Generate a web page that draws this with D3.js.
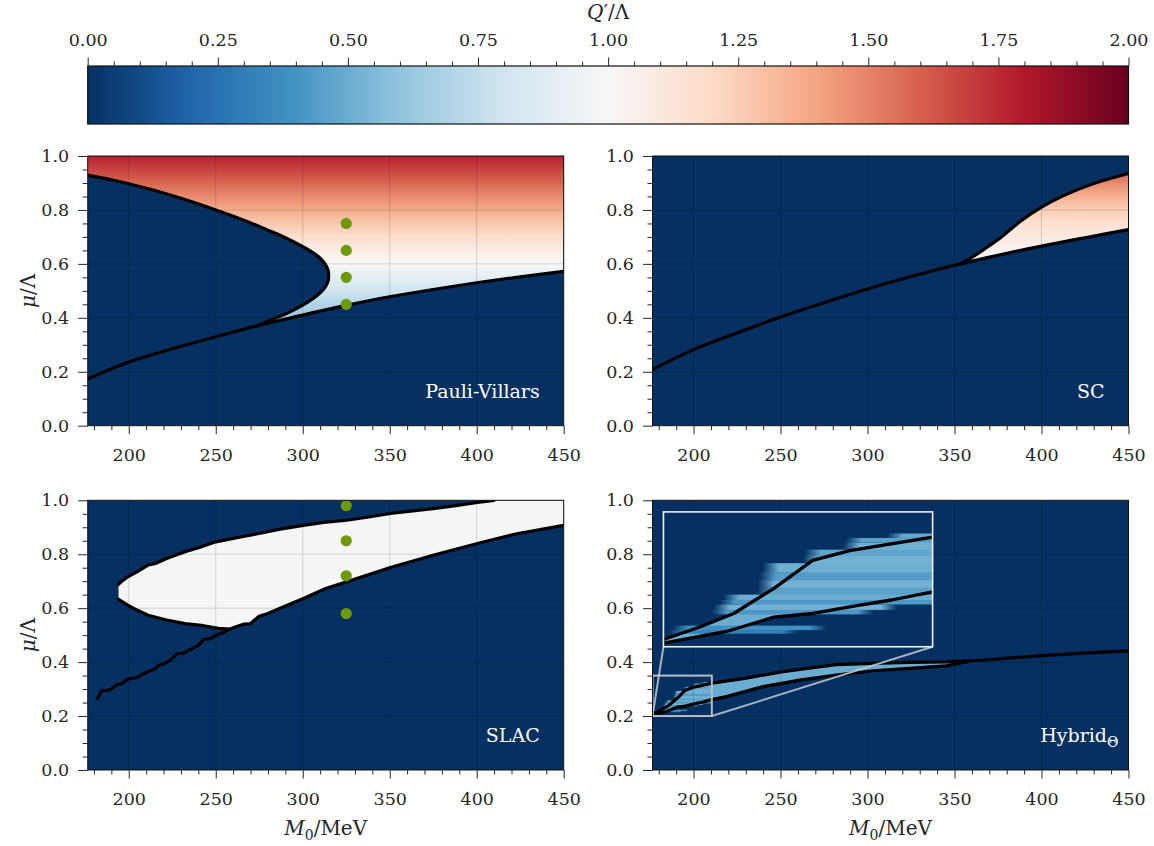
<!DOCTYPE html>
<html>
<head>
<meta charset="utf-8">
<script src="https://cdn.jsdelivr.net/npm/d3@7/dist/d3.min.js"></script>
<style>
  html, body { margin: 0; padding: 0; background: #ffffff; }
  svg text { font-family: "DejaVu Serif", "Liberation Serif", serif; }
</style>
</head>
<body>
<svg id="fig" width="1154" height="846"></svg>
<script>
// ---------- shared axes ----------
const massDomain = [176.4, 450];
const muDomain = [0, 1];
const qDomain = [0, 2];
const massTicks = [200, 250, 300, 350, 400, 450];
const muTicks = [0, 0.2, 0.4, 0.6, 0.8, 1.0];
const qTicks = [0, 0.25, 0.5, 0.75, 1.0, 1.25, 1.5, 1.75, 2.0];

// ---------- Pauli-Villars ----------
const pvUpper = [[176.4,0.929],[190,0.912],[200,0.897],[215,0.872],[230,0.843],[250,0.800],[265,0.765],[280,0.725],[290,0.697],[300,0.664],[306,0.641],[310,0.621],[313,0.598],[314.6,0.575],[314.9,0.556]];
const pvLowerBranch = [[314.9,0.556],[314.6,0.537],[313,0.515],[310,0.493],[306,0.472],[300,0.447],[293,0.423],[285,0.400],[280,0.387],[275,0.373]];
const pvLine = [[176.4,0.173],[200,0.236],[225,0.285],[250,0.330],[275,0.372],[300,0.410],[325,0.446],[350,0.478],[375,0.505],[400,0.530],[425,0.552],[450,0.572]];
const pvMu = [0.35,0.40,0.45,0.50,0.55,0.60,0.65,0.70,0.75,0.80,0.85,0.90,0.95,1.00];
const pvQ  = [0.55,0.62,0.70,0.80,0.90,1.00,1.08,1.17,1.27,1.37,1.48,1.58,1.68,1.78];
const pvDots = [[325,0.75],[325,0.65],[325,0.55],[325,0.45]];

// ---------- SC ----------
const scLine = [[176.4,0.208],[200,0.282],[225,0.344],[250,0.403],[275,0.456],[300,0.507],[325,0.553],[350,0.595],[354,0.601],[375,0.632],[400,0.666],[425,0.697],[450,0.727]];
const scUpper = [[354,0.601],[360,0.624],[366.5,0.652],[377,0.700],[387.5,0.756],[400,0.810],[412.7,0.853],[429.6,0.897],[450,0.935]];
const scMu = [0.60,0.65,0.70,0.75,0.80,0.85,0.90,0.95];
const scQ  = [1.00,1.04,1.09,1.16,1.25,1.36,1.48,1.62];

// ---------- SLAC ----------
const slacUpper = [[194.1,0.688],[196,0.700],[199.4,0.716],[204.7,0.735],[208,0.748],[211.1,0.760],[215,0.765],[221.7,0.784],[232.4,0.809],[241,0.826],[250,0.846],[264.3,0.864],[274.9,0.877],[287,0.893],[300.4,0.907],[312,0.918],[325.3,0.926],[337,0.937],[350.4,0.951],[362,0.960],[374.9,0.969],[388,0.980],[400.4,0.992],[406,1.0],[450,1.0]];
const slacLowerEdge = [[194.1,0.633],[199.4,0.611],[204.7,0.593],[211.1,0.574],[221.7,0.556],[232.4,0.543],[243,0.535],[251.5,0.525],[257.9,0.522]];
const slacRise = [[182,0.265],[184.5,0.294],[187,0.294],[189.8,0.299],[193,0.315],[196.2,0.321],[199.4,0.337],[204.7,0.343],[208,0.355],[211.1,0.364],[215,0.375],[217.5,0.389],[220,0.392],[223.8,0.407],[228.1,0.432],[231,0.432],[234.5,0.444],[240,0.462],[243,0.484],[247,0.487],[251.5,0.504],[254,0.508],[257.9,0.522],[262,0.532],[266.4,0.541],[270,0.543],[274.9,0.570],[280,0.580],[287.7,0.602],[300.4,0.636],[313.2,0.673],[325.3,0.698],[350.4,0.751],[374.9,0.796],[400.4,0.840],[423.8,0.877],[450,0.907]];
const slacQ = 0.985;
const slacDots = [[325,0.98],[325,0.85],[325,0.72],[325,0.58]];

// ---------- Hybrid ----------
const hybUpper = [[176.4,0.208],[181,0.222],[185.3,0.237],[190.4,0.265],[195.3,0.296],[200,0.307],[204.3,0.313],[210.5,0.322],[229.4,0.340],[250.5,0.364],[265.2,0.377],[282,0.391],[303,0.395],[324,0.399],[345,0.401],[358,0.405],[366,0.407],[398,0.423],[429,0.435],[450,0.442]];
const hybLower = [[176.4,0.204],[184.4,0.217],[190.4,0.233],[195.3,0.237],[201.1,0.246],[205.3,0.252],[210.5,0.261],[218.9,0.272],[240,0.309],[261,0.333],[282,0.352],[303,0.368],[324,0.377],[345,0.386],[358,0.403]];
const hybQ = 0.5;
// horizontal streaks of the band: [mu low, mu high, M start, M end, Q'/Lambda]
const hybStreaks = [
  [0.2145,0.2185,177.0,193.5,0.32],
  [0.2185,0.2235,177.5,197.0,0.38],
  [0.2360,0.2410,182.5,203.0,0.42],
  [0.2410,0.2470,182.8,206.0,0.52],
  [0.2470,0.2520,183.5,210.5,0.42],
  [0.2520,0.2580,184.0,210.5,0.50],
  [0.2580,0.2660,188.3,210.5,0.46],
  [0.2660,0.2740,188.4,210.5,0.52],
  [0.2740,0.2830,188.6,210.5,0.44],
  [0.2830,0.2930,189.0,210.5,0.51],
  [0.2930,0.3010,194.1,210.5,0.52],
  [0.3010,0.3080,194.3,210.5,0.47],
  [0.3080,0.3160,199.2,210.5,0.51],
  [0.3160,0.3210,199.5,210.5,0.45],
  [0.3210,0.3260,204.7,210.5,0.48]
];
// zoomed window and where it is placed (main-axis units)
const zoomWindow = {m: [176.4, 210.5], mu: [0.2, 0.35]};
const zoomPlace  = {m: [182.7, 337.4], mu: [0.457, 0.957]};

// ---------- figure ----------
const svg = d3.select('#fig');
const defs = svg.append('defs');
const ink = '#262626';
const fs = 17.5;
// RdBu reversed, linear between the eleven ColorBrewer anchors
const rdbu = d3.schemeRdBu[11].slice().reverse();
const color = d3.scaleLinear()
  .domain(rdbu.map((c, i) => qDomain[0] + i * (qDomain[1] - qDomain[0]) / (rdbu.length - 1)))
  .range(rdbu).interpolate(d3.interpolateRgb).clamp(true);
const panelW = 476, panelH = 269.7;
const layout = {
  pv:   {left: 87.7,  top: 156,   xlab: false, ylab: true},
  sc:   {left: 652.5, top: 156,   xlab: false, ylab: false},
  slac: {left: 87.7,  top: 500.3, xlab: true,  ylab: true},
  hyb:  {left: 652.5, top: 500.3, xlab: true,  ylab: false}
};
const x = d3.scaleLinear().domain(massDomain).range([0, panelW]);
const y = d3.scaleLinear().domain(muDomain).range([panelH, 0]);

function seg(pts, xs, ys, curve) {
  return d3.line().x(d => xs(d[0])).y(d => ys(d[1])).curve(curve || d3.curveLinear)(pts);
}
function joinSegs(segs) {
  return segs.map((s, i) => i ? s.replace(/^M/, 'L') : s).join('') + 'Z';
}
function vGradient(id, ys, mus, qs) {
  const g = defs.append('linearGradient').attr('id', id)
    .attr('gradientUnits', 'userSpaceOnUse')
    .attr('x1', 0).attr('x2', 0)
    .attr('y1', ys(mus[0])).attr('y2', ys(mus[mus.length - 1]));
  const span = mus[mus.length - 1] - mus[0];
  mus.forEach((m, i) => g.append('stop')
    .attr('offset', (m - mus[0]) / span)
    .attr('stop-color', color(qs[i])));
  return `url(#${id})`;
}
function curveStroke(layer, pts, xs, ys, curve, w) {
  layer.append('path').attr('d', seg(pts, xs, ys, curve))
    .attr('fill', 'none').attr('stroke', '#000').attr('stroke-width', w || 3.2)
    .attr('stroke-linejoin', 'round').attr('stroke-linecap', 'round');
}
function dots(layer, pts) {
  layer.selectAll(null).data(pts).join('circle')
    .attr('cx', d => x(d[0])).attr('cy', d => y(d[1])).attr('r', 5.6)
    .attr('fill', '#6e9a0a');
}
function styleAxis(a) {
  a.select('.domain').remove();
  a.attr('font-size', null).attr('font-family', null);
  a.selectAll('line').attr('stroke', ink).attr('stroke-width', 1);
  a.selectAll('text').attr('fill', ink).style('font-size', fs + 'px');
}
function minorTicks(domain, step, majors) {
  const out = [];
  for (let v = Math.ceil(domain[0] / step) * step; v <= domain[1] + 1e-9; v += step) {
    const r = Math.round(v / step) * step;
    if (!majors.some(m => Math.abs(m - r) < 1e-6)) out.push(r);
  }
  return out;
}

function panel(key, label, content) {
  const L = layout[key];
  const g = svg.append('g').attr('transform', `translate(${L.left},${L.top})`);
  defs.append('clipPath').attr('id', 'clip-' + key)
    .append('rect').attr('width', panelW).attr('height', panelH);
  const plot = g.append('g').attr('clip-path', `url(#clip-${key})`);
  plot.append('rect').attr('width', panelW).attr('height', panelH).attr('fill', color(0));
  const heat = plot.append('g');
  const grid = plot.append('g').attr('stroke', '#000').attr('stroke-opacity', 0.14).attr('stroke-width', 1);
  grid.selectAll(null).data(massTicks).join('line')
    .attr('x1', d => x(d)).attr('x2', d => x(d)).attr('y1', 0).attr('y2', panelH);
  grid.selectAll(null).data(muTicks).join('line')
    .attr('y1', d => y(d)).attr('y2', d => y(d)).attr('x1', 0).attr('x2', panelW);
  const marks = plot.append('g');
  content(heat, marks);

  // panel name
  label(g);

  g.append('rect').attr('width', panelW).attr('height', panelH)
    .attr('fill', 'none').attr('stroke', '#111').attr('stroke-width', 1);

  // axes
  const bx = g.append('g').attr('transform', `translate(0,${panelH})`)
    .call(d3.axisBottom(x).tickValues(massTicks).tickSize(8.5).tickPadding(14.2).tickFormat(d3.format('d')));
  styleAxis(bx);
  const bxm = g.append('g').attr('transform', `translate(0,${panelH})`)
    .call(d3.axisBottom(x).tickValues(minorTicks(massDomain, 10, massTicks)).tickSize(4.5).tickFormat(''));
  styleAxis(bxm);
  const ly = g.append('g')
    .call(d3.axisLeft(y).tickValues(muTicks).tickSize(9.5).tickPadding(9).tickFormat(d3.format('.1f')));
  styleAxis(ly);
  const lym = g.append('g')
    .call(d3.axisLeft(y).tickValues(minorTicks(muDomain, 0.05, muTicks)).tickSize(5).tickFormat(''));
  styleAxis(lym);

  if (L.ylab) {
    const t = g.append('text')
      .attr('transform', `translate(${29 - L.left},${panelH / 2}) rotate(-90)`)
      .attr('text-anchor', 'middle').attr('dominant-baseline', 'middle')
      .attr('fill', ink).style('font-size', '20px');
    t.append('tspan').attr('font-style', 'italic').text('μ');
    t.append('tspan').text('/Λ');
  }
  if (L.xlab) {
    const t = g.append('text')
      .attr('x', panelW / 2).attr('y', panelH + 65)
      .attr('text-anchor', 'middle').attr('fill', ink).style('font-size', '20px');
    t.append('tspan').attr('font-style', 'italic').text('M');
    t.append('tspan').attr('dy', 5).style('font-size', '14px').text('0');
    t.append('tspan').attr('dy', -5).text('/MeV');
  }
  return g;
}

function cornerLabel(txt) {
  return g => g.append('text').attr('x', panelW - 24).attr('y', panelH - 28)
    .attr('text-anchor', 'end').attr('fill', '#ffffff').style('font-size', '19px').text(txt);
}

// Pauli-Villars: coloured where Q' > 0
panel('pv', cornerLabel('Pauli-Villars'), (heat, marks) => {
  const fill = vGradient('grad-pv', y, pvMu, pvQ);
  const lineRight = pvLine.filter(d => d[0] >= pvLowerBranch[pvLowerBranch.length - 1][0]);
  const d = joinSegs([
    seg([[massDomain[0], 1], [massDomain[1], 1], lineRight[lineRight.length - 1]], x, y),
    seg(lineRight.slice().reverse(), x, y, d3.curveCatmullRom),
    seg(pvLowerBranch.slice().reverse(), x, y, d3.curveCatmullRom),
    seg(pvUpper.slice().reverse(), x, y, d3.curveCatmullRom)
  ]);
  heat.append('path').attr('d', d).attr('fill', fill);
  curveStroke(marks, pvUpper.concat(pvLowerBranch.slice(1)), x, y, d3.curveCatmullRom);
  curveStroke(marks, pvLine, x, y, d3.curveCatmullRom);
  dots(marks, pvDots);
});

// SC
panel('sc', cornerLabel('SC'), (heat, marks) => {
  const fill = vGradient('grad-sc', y, scMu, scQ);
  const lineRight = scLine.filter(d => d[0] >= scUpper[0][0]);
  const d = joinSegs([
    seg(scUpper, x, y, d3.curveCatmullRom),
    seg(lineRight.slice().reverse(), x, y, d3.curveCatmullRom)
  ]);
  heat.append('path').attr('d', d).attr('fill', fill);
  curveStroke(marks, scLine, x, y, d3.curveCatmullRom);
  curveStroke(marks, scUpper, x, y, d3.curveCatmullRom);
});

// SLAC
panel('slac', cornerLabel('SLAC'), (heat, marks) => {
  const riseRight = slacRise.filter(d => d[0] >= slacLowerEdge[slacLowerEdge.length - 1][0]);
  const d = joinSegs([
    seg(slacUpper, x, y),
    seg(riseRight.slice().reverse(), x, y),
    seg(slacLowerEdge.slice().reverse(), x, y)
  ]);
  heat.append('path').attr('d', d).attr('fill', color(slacQ));
  curveStroke(marks, slacUpper.filter(p => p[1] < 1).concat([[410, 1.0]]), x, y);
  curveStroke(marks, slacLowerEdge, x, y);
  curveStroke(marks, slacRise, x, y);
  dots(marks, slacDots);
});

// Hybrid band; streaks fade in over `fadePx` pixels (and fade out where they stop early)
function drawHybrid(layer, xs, ys, w, fadePx, idPrefix) {
  const upTo = hybLower[hybLower.length - 1][0];
  const band = joinSegs([
    seg(hybUpper.filter(d => d[0] <= upTo), xs, ys),
    seg(hybLower.slice().reverse(), xs, ys)
  ]);
  layer.append('path').attr('d', band).attr('fill', color(hybQ));
  hybStreaks.forEach((d, i) => {
    const id = `${idPrefix}-streak-${i}`;
    const c = color(d[4]);
    const x0 = xs(d[2]), x1 = xs(d[3]);
    const len = Math.max(x1 - x0, 1);
    const fadeIn = Math.min(fadePx / len, 0.45);
    const gr = defs.append('linearGradient').attr('id', id)
      .attr('gradientUnits', 'userSpaceOnUse')
      .attr('x1', x0).attr('x2', x1).attr('y1', 0).attr('y2', 0);
    gr.append('stop').attr('offset', 0).attr('stop-color', c).attr('stop-opacity', 0);
    gr.append('stop').attr('offset', fadeIn).attr('stop-color', c).attr('stop-opacity', 1);
    if (d[3] < zoomWindow.m[1]) {
      gr.append('stop').attr('offset', 1 - fadeIn).attr('stop-color', c).attr('stop-opacity', 1);
      gr.append('stop').attr('offset', 1).attr('stop-color', c).attr('stop-opacity', 0);
    }
    layer.append('rect')
      .attr('x', x0).attr('width', len)
      .attr('y', ys(d[1])).attr('height', ys(d[0]) - ys(d[1]))
      .attr('fill', `url(#${id})`);
  });
  curveStroke(layer, hybUpper, xs, ys, d3.curveLinear, w);
  curveStroke(layer, hybLower, xs, ys, d3.curveLinear, w);
}

const hybG = panel('hyb', g => {
  const t = g.append('text').attr('x', panelW - 10).attr('y', panelH - 28)
    .attr('text-anchor', 'end').attr('fill', '#ffffff').style('font-size', '19px');
  t.append('tspan').text('Hybrid');
  t.append('tspan').attr('dy', 5).style('font-size', '14px').text('Θ');
}, (heat, marks) => {
  drawHybrid(heat, x, y, 3.2, 3, 'main');
  // outline of the zoomed window and connectors
  marks.append('rect')
    .attr('x', x(zoomWindow.m[0])).attr('y', y(zoomWindow.mu[1]))
    .attr('width', x(zoomWindow.m[1]) - x(zoomWindow.m[0]))
    .attr('height', y(zoomWindow.mu[0]) - y(zoomWindow.mu[1]))
    .attr('fill', 'none').attr('stroke', '#b9bdc3').attr('stroke-width', 2);
  const conn = [
    [[zoomWindow.m[0], zoomWindow.mu[0]], [zoomPlace.m[0], zoomPlace.mu[0]]],
    [[zoomWindow.m[1], zoomWindow.mu[0]], [zoomPlace.m[1], zoomPlace.mu[0]]]
  ];
  marks.selectAll(null).data(conn).join('line')
    .attr('x1', d => x(d[0][0])).attr('y1', d => y(d[0][1]))
    .attr('x2', d => x(d[1][0])).attr('y2', d => y(d[1][1]))
    .attr('stroke', '#c4c8cd').attr('stroke-opacity', 0.85).attr('stroke-width', 2);

  // inset axes
  const xi = d3.scaleLinear().domain(zoomWindow.m).range([x(zoomPlace.m[0]), x(zoomPlace.m[1])]);
  const yi = d3.scaleLinear().domain(zoomWindow.mu).range([y(zoomPlace.mu[0]), y(zoomPlace.mu[1])]);
  defs.append('clipPath').attr('id', 'clip-inset').append('rect')
    .attr('x', xi.range()[0]).attr('y', yi.range()[1])
    .attr('width', xi.range()[1] - xi.range()[0]).attr('height', yi.range()[0] - yi.range()[1]);
  const ig = marks.append('g').attr('clip-path', 'url(#clip-inset)');
  ig.append('rect').attr('x', xi.range()[0]).attr('y', yi.range()[1])
    .attr('width', xi.range()[1] - xi.range()[0]).attr('height', yi.range()[0] - yi.range()[1])
    .attr('fill', color(0));
  drawHybrid(ig, xi, yi, 3.3, 16, 'inset');
  marks.append('rect').attr('x', xi.range()[0]).attr('y', yi.range()[1])
    .attr('width', xi.range()[1] - xi.range()[0]).attr('height', yi.range()[0] - yi.range()[1])
    .attr('fill', 'none').attr('stroke', '#eef0f2').attr('stroke-width', 1.6);
});

// ---------- colour bar ----------
const cb = {left: 87.7, top: 66, w: 1040.8, h: 58};
const cx = d3.scaleLinear().domain(qDomain).range([0, cb.w]);
const cbGrad = defs.append('linearGradient').attr('id', 'grad-cb')
  .attr('x1', 0).attr('x2', 1).attr('y1', 0).attr('y2', 0);
d3.range(0, 1.0001, 0.01).forEach(t => cbGrad.append('stop')
  .attr('offset', t).attr('stop-color', color(qDomain[0] + t * (qDomain[1] - qDomain[0]))));
const cbG = svg.append('g').attr('transform', `translate(${cb.left},${cb.top})`);
cbG.append('rect').attr('width', cb.w).attr('height', cb.h).attr('fill', 'url(#grad-cb)')
  .attr('stroke', '#111').attr('stroke-width', 1.2);
const cbAx = cbG.append('g')
  .call(d3.axisTop(cx).tickValues(qTicks).tickSize(8.5).tickPadding(12).tickFormat(d3.format('.2f')));
styleAxis(cbAx);
const cbAxm = cbG.append('g')
  .call(d3.axisTop(cx).tickValues(minorTicks(qDomain, 0.05, qTicks)).tickSize(4.5).tickFormat(''));
styleAxis(cbAxm);
const cbTitle = svg.append('text').attr('x', cb.left + cb.w / 2).attr('y', 19)
  .attr('text-anchor', 'middle').attr('fill', ink).style('font-size', '20px');
cbTitle.append('tspan').attr('font-style', 'italic').text('Q');
cbTitle.append('tspan').text('′/Λ');
</script>
</body>
</html>
